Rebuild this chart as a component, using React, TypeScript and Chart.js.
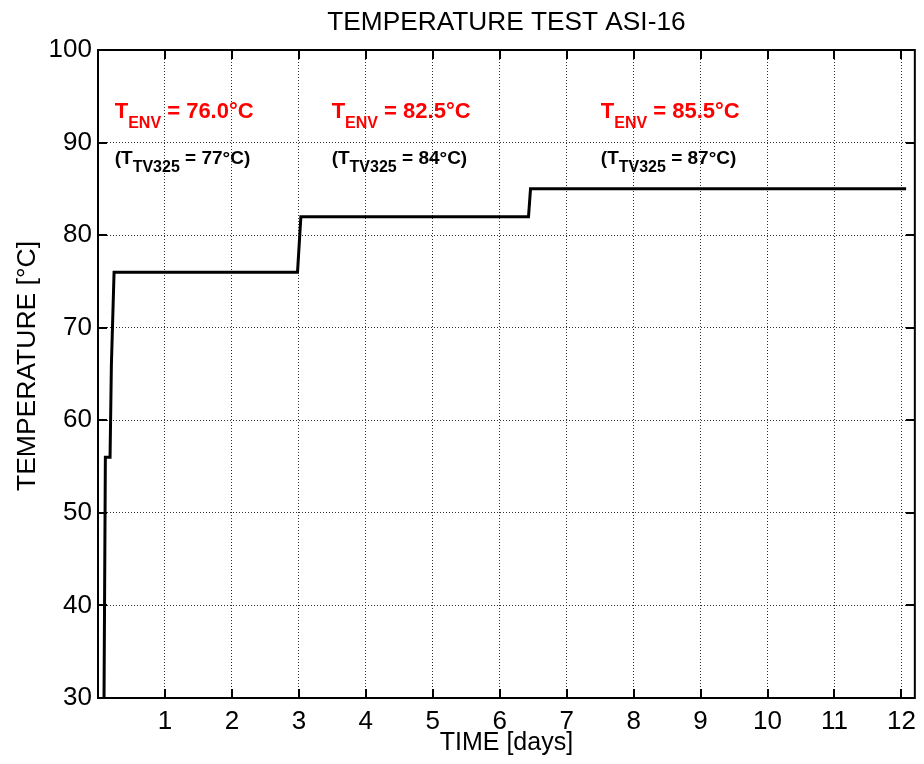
import { useEffect, useRef } from "react";
import { Chart, registerables } from "chart.js";

Chart.register(...registerables);

// ---- data ----
const timeDays = [0.09, 0.11, 0.18, 0.2, 0.24, 2.98, 3.03, 6.43, 6.46, 12.07];
const temperature = [30, 56, 56, 66, 76, 76, 82, 82, 85, 85];
const xTicks = [1, 2, 3, 4, 5, 6, 7, 8, 9, 10, 11, 12];
const yTicks = [30, 40, 50, 60, 70, 80, 90, 100];
const envTemps = ["76.0", "82.5", "85.5"];
const tvTemps = ["77", "84", "87"];
const labelDays = [0.25, 3.49, 7.51];
const envLabelTemp = 92.65;
const tvLabelTemp = 87.7;

const FONT = "'Liberation Sans', Arial, Helvetica, sans-serif";
const RED = "#ff0000";

const decor = {
  id: "decor",
  afterDraw(chart: any) {
    const { ctx, chartArea: a, scales } = chart;
    const xs = scales.x;
    const ys = scales.y;
    ctx.save();
    // inner tick marks
    ctx.strokeStyle = "#000";
    ctx.lineWidth = 2;
    ctx.beginPath();
    for (const v of xTicks) {
      const px = Math.round(xs.getPixelForValue(v));
      ctx.moveTo(px, a.bottom);
      ctx.lineTo(px, a.bottom - 9);
      ctx.moveTo(px, a.top);
      ctx.lineTo(px, a.top + 9);
    }
    for (const v of yTicks) {
      const py = Math.round(ys.getPixelForValue(v));
      ctx.moveTo(a.left, py);
      ctx.lineTo(a.left + 9, py);
      ctx.moveTo(a.right, py);
      ctx.lineTo(a.right - 9, py);
    }
    ctx.stroke();
    ctx.strokeRect(a.left, a.top, a.right - a.left, a.bottom - a.top);

    // titles
    ctx.fillStyle = "#000";
    ctx.textAlign = "center";
    ctx.textBaseline = "alphabetic";
    ctx.font = `25px ${FONT}`;
    ctx.save();
    ctx.translate((a.left + a.right) / 2, 30);
    ctx.scale(1.05, 1);
    ctx.fillText("TEMPERATURE TEST ASI-16", 0, 0);
    ctx.restore();
    ctx.fillText("TIME [days]", (a.left + a.right) / 2, 750);
    ctx.save();
    ctx.translate(35, 366);
    ctx.rotate(-Math.PI / 2);
    ctx.scale(1.06, 1);
    ctx.fillText("TEMPERATURE [\u00B0C]", 0, 0);
    ctx.restore();

    // annotations
    ctx.textAlign = "left";
    for (let i = 0; i < labelDays.length; i++) {
      const x0 = xs.getPixelForValue(labelDays[i]);
      const yRed = ys.getPixelForValue(envLabelTemp);
      const yBlk = ys.getPixelForValue(tvLabelTemp);
      let x = x0;
      ctx.fillStyle = RED;
      ctx.font = `bold 22px ${FONT}`;
      ctx.fillText("T", x, yRed);
      x += ctx.measureText("T").width;
      ctx.font = `bold 16px ${FONT}`;
      ctx.fillText("ENV", x, yRed + 10);
      x += ctx.measureText("ENV").width;
      ctx.font = `bold 22px ${FONT}`;
      ctx.fillText(` = ${envTemps[i]}\u00B0C`, x, yRed);

      x = x0;
      ctx.fillStyle = "#000";
      ctx.font = `bold 19px ${FONT}`;
      ctx.fillText("(T", x, yBlk);
      x += ctx.measureText("(T").width;
      ctx.font = `bold 16px ${FONT}`;
      ctx.fillText("TV325", x, yBlk + 8);
      x += ctx.measureText("TV325").width;
      ctx.font = `bold 19px ${FONT}`;
      ctx.fillText(` = ${tvTemps[i]}\u00B0C)`, x, yBlk);
    }
    ctx.restore();
  },
};

export default function App() {
  const ref = useRef<HTMLCanvasElement | null>(null);
  useEffect(() => {
    if (!ref.current) return;
    const points = timeDays.map((t, i) => ({ x: t, y: temperature[i] }));
    const chart = new Chart(ref.current, {
      type: "line",
      data: {
        datasets: [
          {
            data: points,
            borderColor: "#000",
            borderWidth: 3,
            pointRadius: 0,
            fill: false,
            tension: 0,
          },
        ],
      },
      options: {
        animation: false,
        responsive: false,
        events: [],
        layout: { padding: { top: 50, right: 6, left: 0, bottom: 0 } },
        plugins: { legend: { display: false }, tooltip: { enabled: false }, title: { display: false } },
        scales: {
          x: {
            type: "linear",
            min: 0,
            max: 12.2,
            afterBuildTicks: (s: any) => {
              s.ticks = xTicks.map((v) => ({ value: v }));
            },
            afterFit: (s: any) => {
              s.height = 66;
            },
            ticks: {
              font: { family: FONT, size: 26 },
              color: "#000",
              padding: 8,
              maxRotation: 0,
              autoSkip: false,
              callback: (v: any) => String(v),
            },
            grid: { color: "#333", lineWidth: 1, drawTicks: false },
            border: { display: false, dash: [1, 2] },
          },
          y: {
            type: "linear",
            min: 30,
            max: 100,
            afterBuildTicks: (s: any) => {
              s.ticks = yTicks.map((v) => ({ value: v }));
            },
            afterFit: (s: any) => {
              s.width = 98;
            },
            ticks: {
              font: { family: FONT, size: 26 },
              color: "#000",
              padding: 6,
              autoSkip: false,
              callback: (v: any) => String(v),
            },
            grid: { color: "#333", lineWidth: 1, drawTicks: false },
            border: { display: false, dash: [1, 2] },
          },
        },
      },
      plugins: [decor],
    });
    return () => chart.destroy();
  }, []);
  return (
    <div style={{ position: "absolute", left: 0, top: 0, width: 924, height: 764, background: "#fff" }}>
      <canvas ref={ref} width={924} height={764} style={{ display: "block" }} />
    </div>
  );
}
